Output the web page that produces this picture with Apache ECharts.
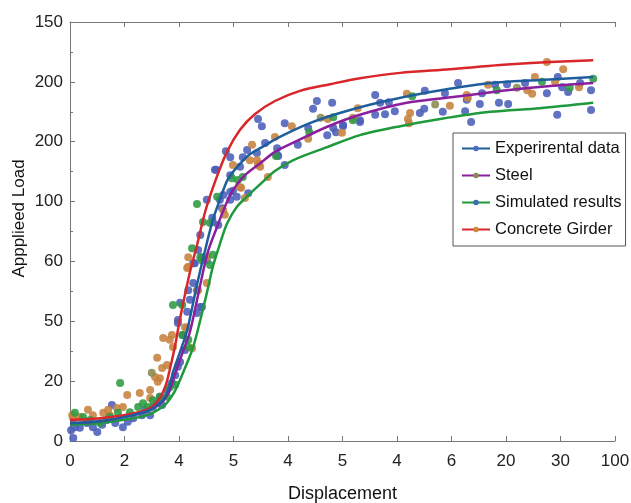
<!DOCTYPE html>
<html><head><meta charset="utf-8">
<script src="https://cdn.jsdelivr.net/npm/echarts@6/dist/echarts.min.js"></script>
<style>html,body{margin:0;padding:0;background:#fff}#c{width:631px;height:503px}</style>
</head><body><div id="c"></div>
<script>
// Tick labels (positions 0..N on each axis)
var xTickLabels = ['0','2','4','5','4','5','4','6','20','30','100'];
var yTickLabels = ['0','20','50','60','100','200','200','150'];

// Fitted curves [x, y] in axis units
var curveExperimental = [[0,0.30],[0.55,0.33],[1.10,0.42],[1.47,0.52],[1.69,0.67],[1.80,0.85],[1.89,1.15],[2.02,1.49],[2.15,1.85],[2.33,2.61],[2.48,3.19],[2.62,3.69],[2.75,4.03],[2.90,4.38],[3.12,4.63],[3.30,4.79],[3.58,4.94],[3.85,5.08],[4.40,5.31],[4.95,5.48],[5.69,5.66],[6.61,5.83],[7.71,5.98],[8.62,6.03],[9.60,6.08]];
var curveSteel = [[0,0.30],[0.55,0.33],[1.10,0.42],[1.47,0.52],[1.71,0.67],[1.83,0.85],[1.94,1.15],[2.07,1.49],[2.20,1.82],[2.39,2.61],[2.53,3.16],[2.70,3.58],[2.84,3.91],[2.99,4.19],[3.21,4.44],[3.49,4.64],[3.76,4.83],[4.09,4.98],[4.72,5.25],[5.32,5.45],[6.18,5.65],[7.16,5.76],[8.02,5.86],[8.81,5.93],[9.60,5.98]];
var curveSimulated = [[0,0.27],[0.55,0.30],[1.10,0.37],[1.47,0.45],[1.74,0.60],[1.87,0.75],[1.96,0.90],[2.11,1.22],[2.26,1.57],[2.39,2.02],[2.51,2.47],[2.62,2.91],[2.75,3.29],[2.88,3.63],[3.06,3.91],[3.30,4.13],[3.49,4.29],[3.76,4.51],[4.09,4.69],[4.72,4.91],[5.32,5.11],[6.06,5.26],[6.79,5.38],[7.71,5.50],[8.62,5.56],[9.60,5.65]];
var curveConcrete = [[0,0.35],[0.55,0.38],[1.10,0.45],[1.47,0.55],[1.65,0.72],[1.76,0.94],[1.83,1.19],[1.93,1.60],[2.02,2.05],[2.20,2.82],[2.33,3.27],[2.48,3.83],[2.66,4.33],[2.88,4.83],[3.12,5.20],[3.39,5.46],[3.76,5.68],[4.22,5.85],[4.77,5.96],[5.32,6.06],[6.06,6.15],[6.97,6.21],[7.89,6.28],[8.81,6.33],[9.60,6.36]];

// Scatter observations [x, y] in axis units
var ptsExperimental = [[3.45,5.38],[3.52,5.26],[3.94,5.31],[4.53,5.68],[4.46,5.55],[4.81,5.65],[4.83,5.23],[4.88,5.16],[4.72,5.11],[5.01,5.28],[4.18,4.95],[3.80,4.89],[3.94,4.61],[3.82,4.76],[3.58,4.98],[3.25,4.86],[2.86,4.84],[2.66,4.53],[2.94,4.44],[3.27,4.14],[2.99,4.18],[2.94,4.03],[2.75,4.03],[2.51,4.03],[2.79,3.89],[2.61,3.73],[4.37,5.23],[5.32,5.36],
[5.60,5.78],[5.69,5.65],[5.85,5.66],[5.60,5.45],[5.78,5.46],[5.96,5.51],[6.42,5.48],[6.50,5.55],[6.51,5.85],[6.84,5.50],[6.88,5.81],[7.12,5.98],[7.28,5.70],[7.25,5.51],[7.36,5.33],[7.52,5.63],[7.56,5.81],[7.80,5.95],[7.87,5.65],[8.04,5.63],[8.02,5.96],[8.35,5.98],[8.75,5.81],[8.94,5.45],[8.95,6.08],[9.03,5.91],[9.14,5.83],[9.36,5.98],[9.56,5.86],[9.56,5.53],[5.01,5.26],[5.32,5.33],
[2.68,4.53],[3.12,4.58],[2.62,3.66],[2.72,3.61],[2.39,3.44],[2.35,3.19],[2.42,3.07],[2.29,2.97],[2.26,2.64],[2.17,2.52],[2.33,2.52],[2.39,2.24],[2.02,2.31],[1.98,1.97],[2.33,2.14],[2.07,1.77],[2.94,4.74],[3.17,4.74],[3.43,4.81],[3.80,4.78],[2.94,4.16],[2.81,4.11],[3.06,4.08],[2.51,3.02],
[0.06,0.05],[0.02,0.18],[0.09,0.23],[0.18,0.22],[0.31,0.30],[0.42,0.23],[0.50,0.15],[0.59,0.27],[0.68,0.35],[0.77,0.60],[0.83,0.30],[0.97,0.23],[1.06,0.32],[1.16,0.38],[1.32,0.43],[1.38,0.52],[1.47,0.43],[1.52,0.57],[1.60,0.63],[1.69,0.60],[1.65,0.74],[1.78,0.85],[1.87,0.97],[1.93,1.10],[1.98,1.24],[2.02,1.32],[2.11,1.52],[1.98,2.02],[2.15,2.16],[2.42,2.24],[2.20,2.36],[2.26,2.97]];
var ptsConcrete = [[3.34,4.95],[2.99,4.61],[3.30,4.69],[3.47,4.63],[3.49,4.58],[3.63,4.41],[3.14,4.23],[3.21,4.06],[3.76,5.08],[4.07,5.26],[4.37,5.05],[4.73,5.38],[4.99,5.15],[5.19,5.40],[2.81,3.86],[2.84,3.78],
[8.75,6.33],[9.05,6.21],[7.67,5.95],[8.53,6.08],[8.39,5.86],[8.48,5.80],[6.97,5.60],[7.28,5.78],[6.24,5.48],[6.20,5.38],[6.22,5.31],[6.18,5.80],[5.28,5.56],[8.90,6.00],[9.34,5.91],[7.30,5.73],
[3.12,4.24],[3.45,4.61],[3.43,4.69],[2.17,3.07],[2.15,2.89],[2.51,2.64],[1.71,1.72],[1.87,1.77],[2.11,1.90],[2.24,1.55],
[0.04,0.43],[0.06,0.38],[0.18,0.40],[0.33,0.52],[0.42,0.43],[0.61,0.47],[0.70,0.52],[0.73,0.43],[0.86,0.55],[0.97,0.57],[1.05,0.77],[1.28,0.80],[1.47,0.72],[1.56,1.07],[1.60,1.39],[1.69,1.22],[1.78,1.27],[1.83,1.69],[1.89,1.57],[1.65,1.05],[1.61,0.99],[1.47,0.85],[2.15,1.89],[2.35,2.52],[2.17,2.91],[2.51,3.07]];
var ptsSimulated = [[2.33,3.96],[3.08,4.36],[2.97,4.39],[3.17,4.41],[3.78,4.76],[4.39,5.16],[4.83,5.41],[5.19,5.36],[2.70,4.08],
[6.28,5.76],[8.66,6.00],[9.17,5.90],[9.60,6.05],[7.83,5.86],
[2.44,3.66],[2.57,3.64],[2.24,3.22],[2.42,3.02],[1.89,2.27],[2.06,2.27],[2.62,3.11],[2.57,2.94],[2.06,1.77],[2.17,1.69],
[0.09,0.47],[0.24,0.40],[0.37,0.35],[0.55,0.30],[0.73,0.40],[0.88,0.47],[0.92,0.97],[1.10,0.48],[1.25,0.57],[1.34,0.63],[1.43,0.57],[1.52,0.68],[1.65,0.74],[1.78,0.74],[1.83,0.90],[1.93,0.94],[2.17,1.57],[2.39,3.07]];
var ptsSteel = [[1.50,1.14],[4.60,5.40],[6.70,5.62],[8.20,5.90]];

var chart = echarts.init(document.getElementById('c'), null, {renderer:'canvas'});
var font = 'Liberation Sans, Arial, sans-serif';
function scatter(name, data, color){
  return {name:name, type:'scatter', data:data, symbolSize:8, z:2,
    itemStyle:{color:color, opacity:0.88}, silent:true};
}
function curve(name, data, color, mcolor){
  return {name:name, type:'line', data:data, smooth:0.3, showSymbol:false,
    symbol:'circle', symbolSize:6, z:3,
    lineStyle:{color:color, width:2.5}, itemStyle:{color:mcolor}};
}
chart.setOption({
  animation:false,
  backgroundColor:'#fff',
  textStyle:{fontFamily:font},
  grid:{left:70, right:16, top:22, bottom:62, containLabel:false, outerBoundsMode:'none'},
  legend:{
    data:['Experirental data','Steel','Simulated results','Concrete Girder'],
    orient:'vertical', left:453, top:133, itemWidth:28, itemHeight:7, itemGap:10,
    padding:[7,4,8,8], borderColor:'#555', borderWidth:1, backgroundColor:'#fff',
    textStyle:{fontSize:16.5, color:'#111', fontFamily:font}
  },
  xAxis:[{
    type:'value', min:0, max:10, interval:1,
    name:'Displacement', nameLocation:'middle', nameGap:44, nameMoveOverlap:false,
    nameTextStyle:{fontSize:18, color:'#111', fontFamily:font},
    axisLine:{lineStyle:{color:'#777', width:1}},
    axisTick:{inside:true, length:5, lineStyle:{color:'#777'}},
    axisLabel:{fontSize:17, color:'#222', margin:12, fontFamily:font,
      formatter:function(v){ return xTickLabels[Math.round(v)]; }},
    splitLine:{show:false}
  },{
    type:'value', min:0, max:10, interval:1, position:'top',
    axisLine:{show:true, lineStyle:{color:'#777'}},
    axisTick:{show:true, inside:true, length:5, lineStyle:{color:'#777'}},
    axisLabel:{show:false}, splitLine:{show:false}
  }],
  yAxis:{
    type:'value', min:0, max:7, interval:1,
    name:'Appplieed Load', nameLocation:'middle', nameGap:42, nameMoveOverlap:false,
    nameTextStyle:{fontSize:17, color:'#111', fontFamily:font, padding:[0,0,0,26]},
    axisLine:{show:true, lineStyle:{color:'#777', width:1}},
    axisTick:{inside:true, length:5, lineStyle:{color:'#777'}},
    minorTick:{show:true, splitNumber:2, length:3, lineStyle:{color:'#777'}},
    axisLabel:{fontSize:17, color:'#222', margin:7, fontFamily:font,
      formatter:function(v){ return yTickLabels[Math.round(v)]; }},
    splitLine:{show:false}
  },
  series:[
    scatter('pts-exp', ptsExperimental, '#4a5fb8'),
    scatter('pts-conc', ptsConcrete, '#c7823e'),
    scatter('pts-sim', ptsSimulated, '#2d9a42'),
    scatter('pts-steel', ptsSteel, '#8a8a52'),
    curve('Concrete Girder', curveConcrete, '#d8262a', '#cc8a3c'),
    curve('Simulated results', curveSimulated, '#1e9a3c', '#3a6fb0'),
    curve('Steel', curveSteel, '#8b1e9e', '#8a8a52'),
    curve('Experirental data', curveExperimental, '#1f5e9c', '#4a6fc0')
  ]
});
</script></body></html>
